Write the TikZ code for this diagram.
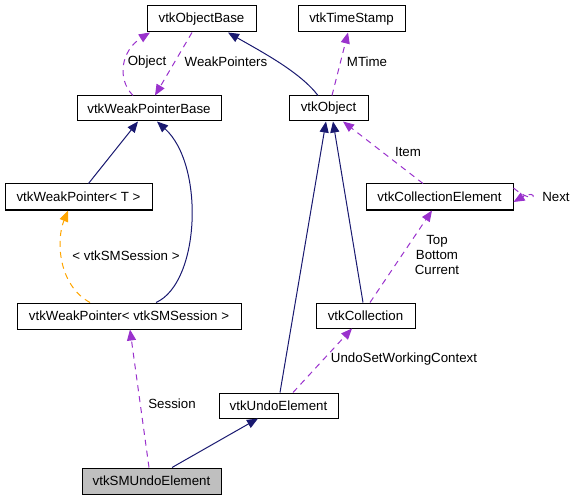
\documentclass[tikz,border=0pt]{standalone}
\usepackage{fontspec}
\setmainfont{Liberation Sans}
\usetikzlibrary{arrows.meta}
\definecolor{navy}{HTML}{191970}
\definecolor{purp}{HTML}{9A32CD}
\definecolor{orng}{HTML}{FFA500}
\tikzset{
  box/.style={draw=black, line width=1pt, inner sep=0pt, font=\fontsize{13.3}{15}\selectfont},
  lbl/.style={inner sep=0pt, font=\fontsize{13.3}{15}\selectfont, align=center},
  inh/.style={draw=navy, line width=1pt, -{Triangle[length=11pt,width=9pt]}},
  use/.style={draw=purp, line width=1pt, dash pattern=on 6pt off 5pt, -{Triangle[length=11pt,width=9pt]}},
  tmpl/.style={draw=orng, line width=1pt, dash pattern=on 6pt off 5pt, -{Triangle[length=11pt,width=9pt]}},
}
\begin{document}
\begin{tikzpicture}[x=1pt,y=-1pt]
\useasboundingbox (0,0) rectangle (576,500);
% nodes
\node[box, minimum width=109pt, minimum height=26pt] (ob) at (201.5,19) {vtkObjectBase};
\node[box, minimum width=107pt, minimum height=26pt] (ts) at (351.5,19) {vtkTimeStamp};
\node[box, minimum width=144pt, minimum height=25pt] (wpb) at (149,108.5) {vtkWeakPointerBase};
\node[box, minimum width=79pt, minimum height=25pt] (obj) at (328.5,108.5) {vtkObject};
\node[box, minimum width=147pt, minimum height=26pt] (ce) at (439.5,197) {vtkCollectionElement};
\node[box, minimum width=147pt, minimum height=26pt] (wpt) at (78.5,197) {vtkWeakPointer< T >};
\node[box, minimum width=224pt, minimum height=26pt] (wps) at (129,316) {vtkWeakPointer< vtkSMSession >};
\node[box, minimum width=99pt, minimum height=25pt] (col) at (365.5,315.5) {vtkCollection};
\node[box, minimum width=119pt, minimum height=25pt] (ue) at (278.5,405.5) {vtkUndoElement};
\node[box, fill=black!25, minimum width=139pt, minimum height=26pt] (sue) at (151.5,481) {vtkSMUndoElement};
% edges
\draw[use] ([xshift=-16pt]wpb.north) .. controls (116,78) and (122,50) .. ([xshift=-51.5pt]ob.south);
\draw[use] ([xshift=-9.5pt]ob.south) -- ([xshift=6pt]wpb.north);
\draw[inh] ([xshift=-10.5pt]obj.north) .. controls (300,72) and (262,52) .. ([xshift=26.5pt]ob.south);
\draw[use] ([xshift=3.5pt]obj.north) -- ([xshift=-3.5pt]ts.south);
\draw[use] ([xshift=-16.5pt]ce.north) -- ([xshift=14.5pt]obj.south);
\draw[use] ([yshift=9pt]ce.east) .. controls (538,208) and (538,188) .. ([yshift=-5pt]ce.east);
\draw[inh] ([xshift=10pt]wpt.north) -- ([xshift=-11pt]wpb.south);
\draw[inh] ([xshift=27pt]wps.north) .. controls (200,283) and (205,165) .. ([xshift=8pt]wpb.south);
\draw[tmpl] ([xshift=-39pt]wps.north) .. controls (58,285) and (56,240) .. ([xshift=-10.5pt]wpt.south);
\draw[inh] ([xshift=-2.5pt]col.north) -- ([xshift=4.5pt]obj.south);
\draw[inh] ([xshift=1.5pt]ue.north) -- ([xshift=-2.5pt]obj.south);
\draw[use] ([xshift=14.5pt]ue.north) -- ([xshift=-13.5pt]col.south);
\draw[use] ([xshift=4.5pt]col.north) -- ([xshift=-7.5pt]ce.south);
\draw[inh] ([xshift=20.5pt]sue.north) -- ([xshift=-20.5pt]ue.south);
\draw[use] ([xshift=-2.5pt]sue.north) -- ([xshift=1pt]wps.south);
% labels
\node[lbl] (lobj) at (147,62) {Object};
\node[lbl] (lwp) at (226,62) {WeakPointers};
\node[lbl] (lmt) at (367,62) {MTime};
\node[lbl] (litem) at (408,152) {Item};
\node[lbl] (lnext) at (556,197) {Next};
\node[lbl] (lsms) at (126,256) {< vtkSMSession >};
\node[lbl] (ltbc) at (437,255) {Top\\Bottom\\Current};
\node[lbl] (lusw) at (404,359) {UndoSetWorkingContext};
\node[lbl] (lses) at (172,404) {Session};
\end{tikzpicture}
\end{document}
